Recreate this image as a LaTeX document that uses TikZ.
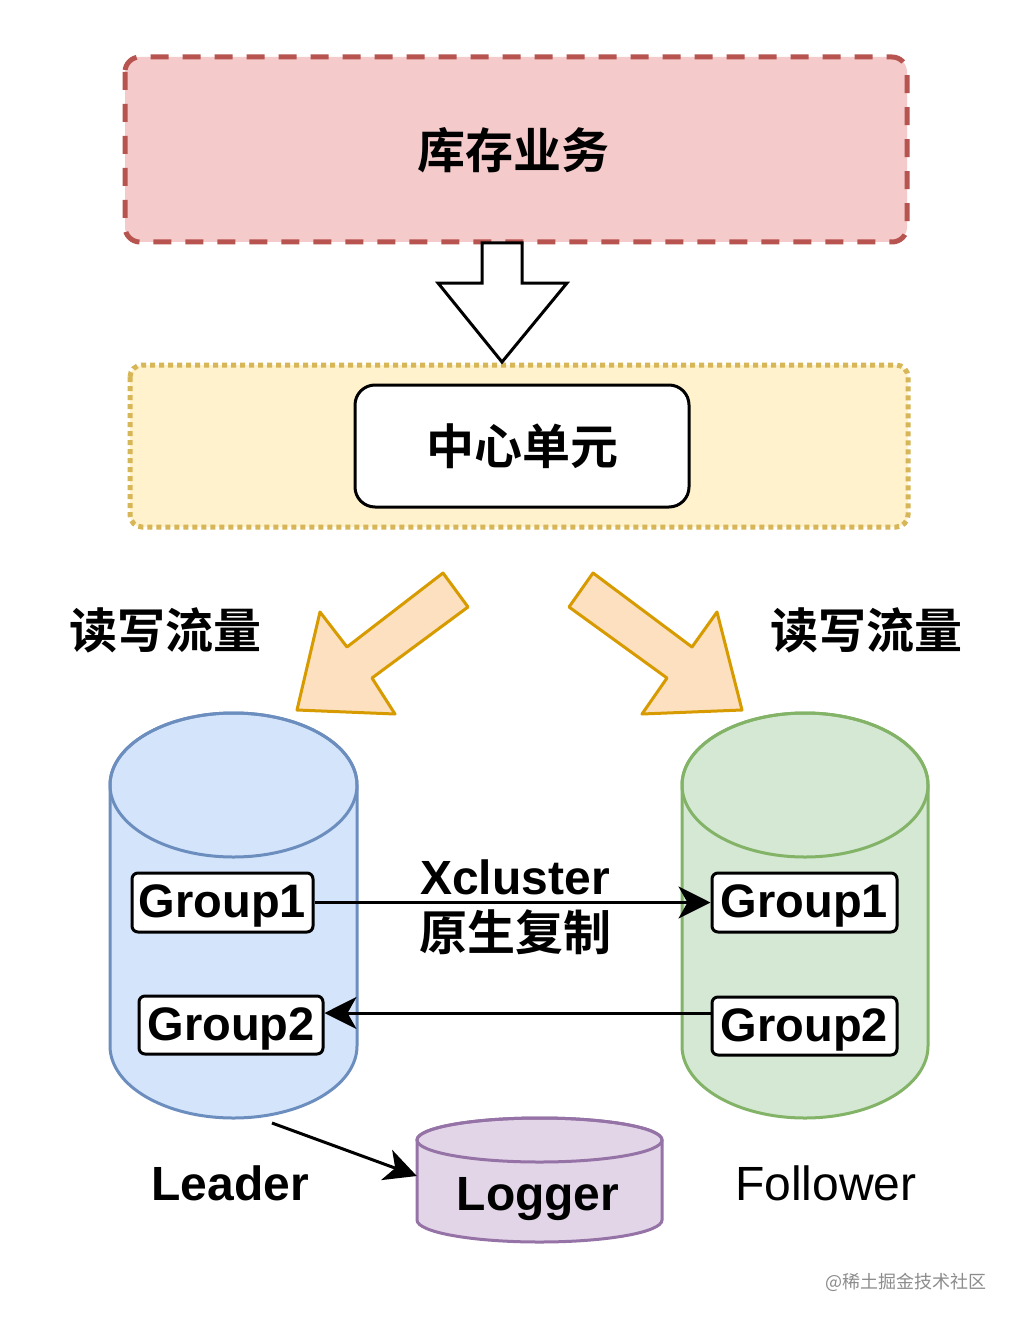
\documentclass[tikz,border=0pt]{standalone}
\usepackage{fontspec}
\setmainfont{Liberation Sans}
\newfontfamily\cjk{Noto Sans CJK SC}[BoldFont={* Bold}]
\usetikzlibrary{arrows.meta}
\definecolor{redline}{HTML}{B85450}
\definecolor{redfill}{HTML}{F4CACA}
\definecolor{yelline}{HTML}{D6B656}
\definecolor{yelfill}{HTML}{FFF2CC}
\definecolor{orline}{HTML}{D79B00}
\definecolor{orfill}{HTML}{FCE0C0}
\definecolor{blline}{HTML}{6C8EBF}
\definecolor{blfill}{HTML}{D4E4FA}
\definecolor{grline}{HTML}{82B366}
\definecolor{grfill}{HTML}{D5E8D4}
\definecolor{puline}{HTML}{9673A6}
\definecolor{pufill}{HTML}{E1D5E7}
\newcommand\mycyl[7]{%
  \filldraw[fill=#6,draw=#7,line width=3pt]
    (#1-#4,#2) -- (#1-#4,#3)
    arc[start angle=180,end angle=0,x radius=#4,y radius=#5]
    -- (#1+#4,#2)
    arc[start angle=0,end angle=-180,x radius=#4,y radius=#5] -- cycle;
  \draw[draw=#7,line width=3pt] (#1,#2) ellipse[x radius=#4,y radius=#5];}
\begin{document}
\begin{tikzpicture}[x=1pt,y=-1pt,
  cjktext/.style={font=\cjk\bfseries\fontsize{48}{56}\selectfont,inner sep=0pt},
  lattext/.style={font=\bfseries\fontsize{48}{52}\selectfont,inner sep=0pt},
  groupbox/.style={draw=black,line width=3pt,fill=white,rounded corners=6pt,
     inner sep=0pt,text height=34pt,text depth=4pt,
     font=\bfseries\fontsize{47}{50}\selectfont},
  fatarrow/.style={draw=orline,fill=orfill,line width=3pt,line join=round},
  conn/.style={line width=3pt,-{Stealth[length=32pt,width=32pt,inset=9pt]}}]
\fill[white] (0,0) rectangle (1018,1324);
\useasboundingbox (0,0) rectangle (1018,1324);
% top box
\draw[draw=redline,fill=redfill,line width=5pt,rounded corners=15pt,
  dash pattern=on 18pt off 14pt] (125,57) rectangle (907,242);
\node[cjktext] (biz) at (513,150) {库存业务};
% yellow box
\draw[draw=yelline,fill=yelfill,line width=5pt,rounded corners=12pt,
  dash pattern=on 5pt off 4pt] (130,365) rectangle (908,527);
\node[draw=black,fill=white,line width=3pt,rounded corners=20pt,
  minimum width=334pt,minimum height=122pt,inner sep=0pt,
  font=\cjk\bfseries\fontsize{48}{56}\selectfont] (center) at (522,446) {中心单元};
% down arrow
\draw[draw=black,fill=white,line width=3pt,line join=miter]
  (482,243) -- (522,243) -- (522,283) -- (567,283) -- (502,362)
  -- (438,283) -- (482,283) -- cycle;
% orange arrows
\draw[fatarrow] (297,710) -- (320,612) -- (347,647) -- (443,573) -- (468,607)
  -- (372,678) -- (395,714) -- cycle;
\draw[fatarrow] (742,710) -- (717,612) -- (692,647) -- (593,573) -- (569,607)
  -- (667,678) -- (642,714) -- cycle;
\node[cjktext] (rwl) at (165,630) {读写流量};
\node[cjktext] (rwr) at (866,630) {读写流量};
% cylinders
\mycyl{233.5}{785}{1046}{123.5}{72}{blfill}{blline}
\mycyl{805}{785}{1046}{123}{72}{grfill}{grline}
\mycyl{539.5}{1140}{1220}{122.5}{22}{pufill}{puline}
\node[minimum width=247pt,minimum height=405pt,inner sep=0pt] (leader) at (233.5,915.5) {};
\node[minimum width=246pt,minimum height=405pt,inner sep=0pt] (follower) at (805,915.5) {};
\node[minimum width=245pt,minimum height=124pt,inner sep=0pt] (logger) at (539.5,1178) {};
\node[lattext] (loggertxt) at (538,1199) {Logger};
% groups
\node[groupbox,minimum width=181pt,minimum height=59pt] (g1l) at (222.5,902.5) {Group1};
\node[groupbox,minimum width=184pt,minimum height=58pt] (g2l) at (231,1025) {Group2};
\node[groupbox,minimum width=185pt,minimum height=59pt] (g1r) at (804.5,902.5) {Group1};
\node[groupbox,minimum width=185pt,minimum height=58pt] (g2r) at (804.5,1026) {Group2};
\draw[conn] (g1l.east) -- (g1r.west);
\draw[conn] ([yshift=13pt]g2r.west) -- ([yshift=13pt]g2r.west -| g2l.east);
\node[lattext] (xc) at (515,877) {Xcluster};
\node[cjktext] (xc2) at (515,932) {原生复制};
% leader/follower labels
\node[lattext] (leadtxt) at (230,1183) {Leader};
\node[font=\fontsize{48}{52}\selectfont,inner sep=0pt] (foltxt) at (826,1183) {Follower};
\coordinate (lstart) at (272,1123);
\draw[conn] (lstart) -- ([yshift=2pt]logger.west);
\node[font=\cjk\fontsize{18}{20}\selectfont,text=black!45,inner sep=0pt] (wm) at (906,1282) {@稀土掘金技术社区};
\end{tikzpicture}
\end{document}
